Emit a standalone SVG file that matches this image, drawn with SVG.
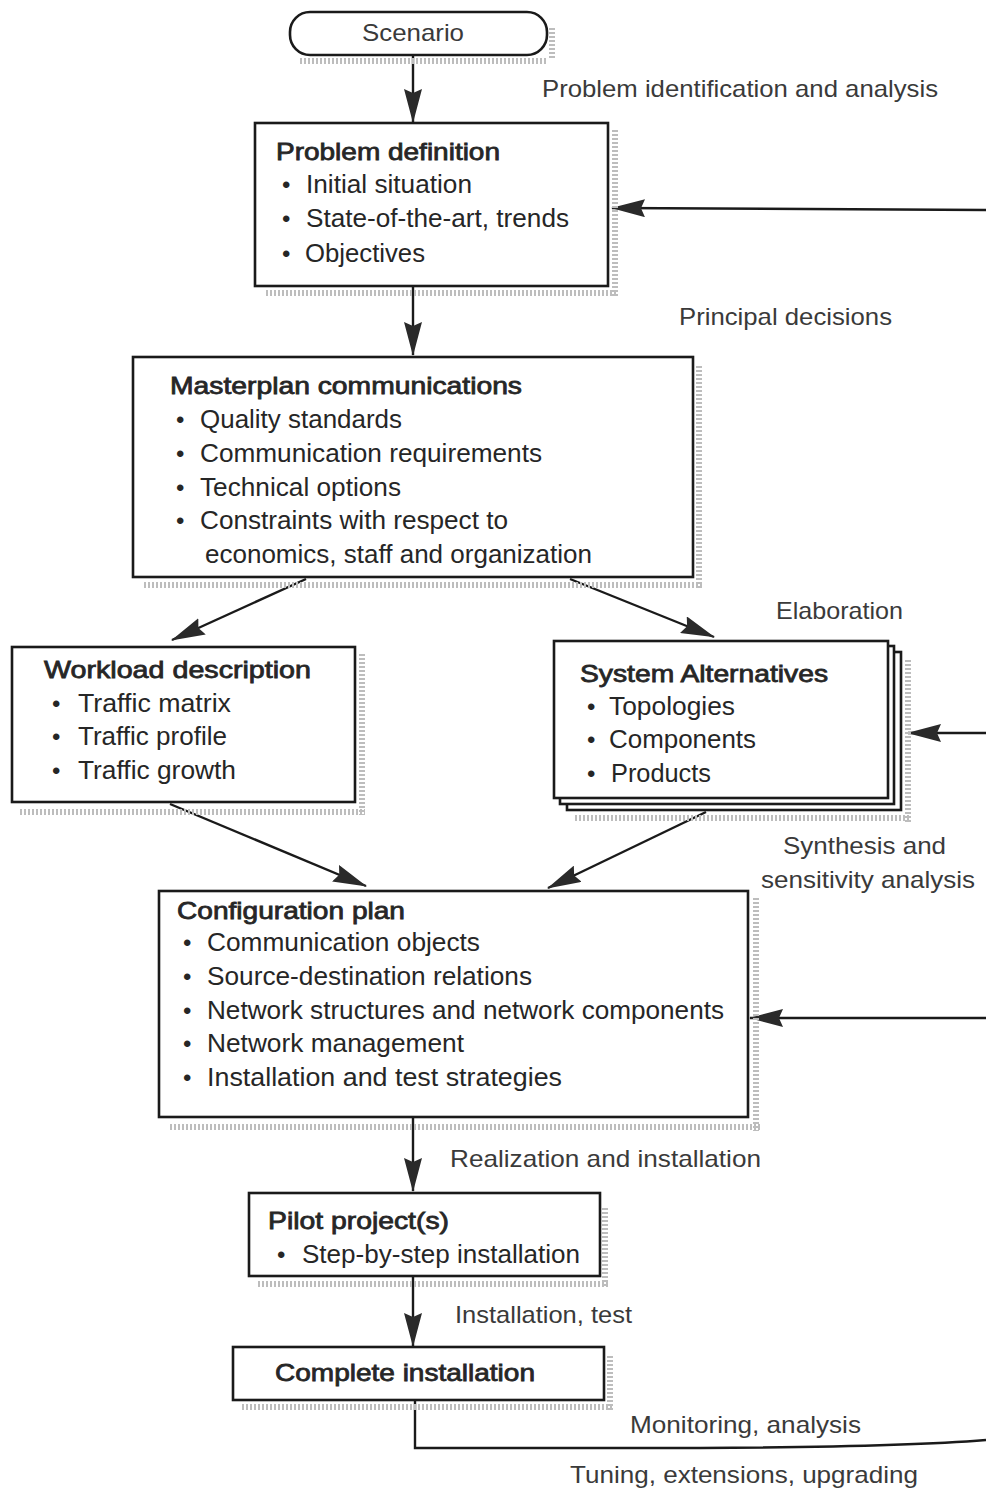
<svg xmlns="http://www.w3.org/2000/svg" width="986" height="1490" viewBox="0 0 986 1490">
  <defs>
    <marker id="arrow" viewBox="0 0 34 18" refX="33" refY="9" markerWidth="34" markerHeight="18" markerUnits="userSpaceOnUse" orient="auto">
      <path d="M0,0 L34,9 L0,18 L4,9 Z" fill="#2a2a2a"/>
    </marker>
    <style>
      .box { fill: #ffffff; stroke: #1a1a1a; stroke-width: 2.6; }
      .shadow { stroke: #bdbdbd; stroke-width: 6; stroke-dasharray: 2 2; fill: none; }
      .edge { stroke: #1a1a1a; stroke-width: 2.4; fill: none; }
      .arr { marker-end: url(#arrow); }
      text { font-family: "Liberation Sans", Arial, sans-serif; fill: #262626; }
      .t { font-size: 24px; stroke: #262626; stroke-width: 0.8; }
      .i { font-size: 25px; }
      .lbl { font-size: 24px; fill: #3a3a3a; }
      .b { font-size: 24px; }
    </style>
  </defs>
  <rect width="986" height="1490" fill="#ffffff"/>

  <!-- connectors -->
  <g id="connectors">
    <line class="edge arr" x1="413" y1="55" x2="413" y2="122"/>
    <line class="edge arr" x1="413" y1="286" x2="413" y2="355"/>
    <line class="edge arr" x1="986" y1="210" x2="612" y2="208"/>
    <line class="edge arr" x1="306" y1="579" x2="172" y2="640"/>
    <line class="edge arr" x1="570" y1="579" x2="714" y2="637"/>
    <line class="edge arr" x1="986" y1="733" x2="908" y2="733"/>
    <line class="edge arr" x1="170" y1="804" x2="366" y2="886"/>
    <line class="edge arr" x1="706" y1="812" x2="548" y2="888"/>
    <line class="edge arr" x1="986" y1="1018" x2="750" y2="1018"/>
    <line class="edge arr" x1="413" y1="1117" x2="413" y2="1191"/>
    <line class="edge arr" x1="413" y1="1276" x2="413" y2="1346"/>
    <path class="edge" d="M415,1400 V1448 L700,1448 Q900,1447 986,1440"/>
  </g>

  <!-- edge labels -->
  <g id="labels">
    <text class="lbl" x="542" y="97" textLength="396" lengthAdjust="spacingAndGlyphs">Problem identification and analysis</text>
    <text class="lbl" x="679" y="325" textLength="213" lengthAdjust="spacingAndGlyphs">Principal decisions</text>
    <text class="lbl" x="776" y="619" textLength="127" lengthAdjust="spacingAndGlyphs">Elaboration</text>
    <text class="lbl" x="783" y="854" textLength="163" lengthAdjust="spacingAndGlyphs">Synthesis and</text>
    <text class="lbl" x="761" y="888" textLength="214" lengthAdjust="spacingAndGlyphs">sensitivity analysis</text>
    <text class="lbl" x="450" y="1167" textLength="311" lengthAdjust="spacingAndGlyphs">Realization and installation</text>
    <text class="lbl" x="455" y="1323" textLength="177" lengthAdjust="spacingAndGlyphs">Installation, test</text>
    <text class="lbl" x="630" y="1433" textLength="231" lengthAdjust="spacingAndGlyphs">Monitoring, analysis</text>
    <text class="lbl" x="570" y="1483" textLength="348" lengthAdjust="spacingAndGlyphs">Tuning, extensions, upgrading</text>
  </g>

  <!-- Scenario -->
  <g id="scenario">
    <line class="shadow" x1="300" y1="61" x2="548" y2="61" stroke-width="4"/>
    <line class="shadow" x1="552" y1="28" x2="552" y2="58" stroke-width="4"/>
    <rect class="box" x="290" y="12" width="257" height="43" rx="20" ry="20"/>
    <text class="lbl" x="413" y="41" text-anchor="middle" textLength="102" lengthAdjust="spacingAndGlyphs">Scenario</text>
  </g>

  <!-- Problem definition -->
  <g id="problem-definition">
    <line class="shadow" x1="615" y1="130" x2="615" y2="296"/>
    <line class="shadow" x1="266" y1="293" x2="618" y2="293"/>
    <rect class="box" x="255" y="123" width="353" height="163"/>
    <text class="t" x="276" y="160" textLength="224" lengthAdjust="spacingAndGlyphs">Problem definition</text>
    <text class="b" x="282" y="193">•</text>
    <text class="i" x="306" y="193" textLength="166" lengthAdjust="spacingAndGlyphs">Initial situation</text>
    <text class="b" x="282" y="227">•</text>
    <text class="i" x="306" y="227" textLength="263" lengthAdjust="spacingAndGlyphs">State-of-the-art, trends</text>
    <text class="b" x="282" y="262">•</text>
    <text class="i" x="305" y="262" textLength="120" lengthAdjust="spacingAndGlyphs">Objectives</text>
  </g>

  <!-- Masterplan communications -->
  <g id="masterplan">
    <line class="shadow" x1="699" y1="366" x2="699" y2="589"/>
    <line class="shadow" x1="144" y1="585" x2="702" y2="585"/>
    <rect class="box" x="133" y="357" width="560" height="220"/>
    <text class="t" x="170" y="394" textLength="352" lengthAdjust="spacingAndGlyphs">Masterplan communications</text>
    <text class="b" x="176" y="428">•</text>
    <text class="i" x="200" y="428" textLength="202" lengthAdjust="spacingAndGlyphs">Quality standards</text>
    <text class="b" x="176" y="462">•</text>
    <text class="i" x="200" y="462" textLength="342" lengthAdjust="spacingAndGlyphs">Communication requirements</text>
    <text class="b" x="176" y="496">•</text>
    <text class="i" x="200" y="496" textLength="201" lengthAdjust="spacingAndGlyphs">Technical options</text>
    <text class="b" x="176" y="529">•</text>
    <text class="i" x="200" y="529" textLength="308" lengthAdjust="spacingAndGlyphs">Constraints with respect to</text>
    <text class="i" x="205" y="563" textLength="387" lengthAdjust="spacingAndGlyphs">economics, staff and organization</text>
  </g>

  <!-- Workload description -->
  <g id="workload">
    <line class="shadow" x1="362" y1="654" x2="362" y2="815"/>
    <line class="shadow" x1="20" y1="812" x2="365" y2="812"/>
    <rect class="box" x="12" y="647" width="343" height="155"/>
    <text class="t" x="44" y="678" textLength="267" lengthAdjust="spacingAndGlyphs">Workload description</text>
    <text class="b" x="52" y="712">•</text>
    <text class="i" x="78" y="712" textLength="153" lengthAdjust="spacingAndGlyphs">Traffic matrix</text>
    <text class="b" x="52" y="745">•</text>
    <text class="i" x="78" y="745" textLength="149" lengthAdjust="spacingAndGlyphs">Traffic profile</text>
    <text class="b" x="52" y="779">•</text>
    <text class="i" x="78" y="779" textLength="158" lengthAdjust="spacingAndGlyphs">Traffic growth</text>
  </g>

  <!-- System Alternatives (stacked sheets) -->
  <g id="system-alternatives">
    <line class="shadow" x1="908" y1="660" x2="908" y2="822"/>
    <line class="shadow" x1="575" y1="818" x2="911" y2="818"/>
    <rect class="box" x="567" y="652" width="334" height="158"/>
    <rect class="box" x="560" y="646" width="334" height="158"/>
    <rect class="box" x="554" y="641" width="334" height="157"/>
    <text class="t" x="580" y="682" textLength="248" lengthAdjust="spacingAndGlyphs">System Alternatives</text>
    <text class="b" x="587" y="715">•</text>
    <text class="i" x="609" y="715" textLength="126" lengthAdjust="spacingAndGlyphs">Topologies</text>
    <text class="b" x="587" y="748">•</text>
    <text class="i" x="609" y="748" textLength="147" lengthAdjust="spacingAndGlyphs">Components</text>
    <text class="b" x="587" y="782">•</text>
    <text class="i" x="611" y="782" textLength="100" lengthAdjust="spacingAndGlyphs">Products</text>
  </g>

  <!-- Configuration plan -->
  <g id="configuration-plan">
    <line class="shadow" x1="756" y1="898" x2="756" y2="1131"/>
    <line class="shadow" x1="170" y1="1127" x2="760" y2="1127"/>
    <rect class="box" x="159" y="891" width="589" height="226"/>
    <text class="t" x="177" y="919" textLength="228" lengthAdjust="spacingAndGlyphs">Configuration plan</text>
    <text class="b" x="183" y="951">•</text>
    <text class="i" x="207" y="951" textLength="273" lengthAdjust="spacingAndGlyphs">Communication objects</text>
    <text class="b" x="183" y="985">•</text>
    <text class="i" x="207" y="985" textLength="325" lengthAdjust="spacingAndGlyphs">Source-destination relations</text>
    <text class="b" x="183" y="1019">•</text>
    <text class="i" x="207" y="1019" textLength="517" lengthAdjust="spacingAndGlyphs">Network structures and network components</text>
    <text class="b" x="183" y="1052">•</text>
    <text class="i" x="207" y="1052" textLength="257" lengthAdjust="spacingAndGlyphs">Network management</text>
    <text class="b" x="183" y="1086">•</text>
    <text class="i" x="207" y="1086" textLength="355" lengthAdjust="spacingAndGlyphs">Installation and test strategies</text>
  </g>

  <!-- Pilot project(s) -->
  <g id="pilot-project">
    <line class="shadow" x1="605" y1="1208" x2="605" y2="1287"/>
    <line class="shadow" x1="258" y1="1284" x2="608" y2="1284"/>
    <rect class="box" x="249" y="1193" width="351" height="83"/>
    <text class="t" x="268" y="1229" textLength="181" lengthAdjust="spacingAndGlyphs">Pilot project(s)</text>
    <text class="b" x="277" y="1263">•</text>
    <text class="i" x="302" y="1263" textLength="278" lengthAdjust="spacingAndGlyphs">Step-by-step installation</text>
  </g>

  <!-- Complete installation -->
  <g id="complete-installation">
    <line class="shadow" x1="610" y1="1356" x2="610" y2="1410"/>
    <line class="shadow" x1="242" y1="1407" x2="612" y2="1407"/>
    <rect class="box" x="233" y="1347" width="371" height="53"/>
    <text class="t" x="275" y="1381" textLength="260" lengthAdjust="spacingAndGlyphs">Complete installation</text>
  </g>
</svg>
